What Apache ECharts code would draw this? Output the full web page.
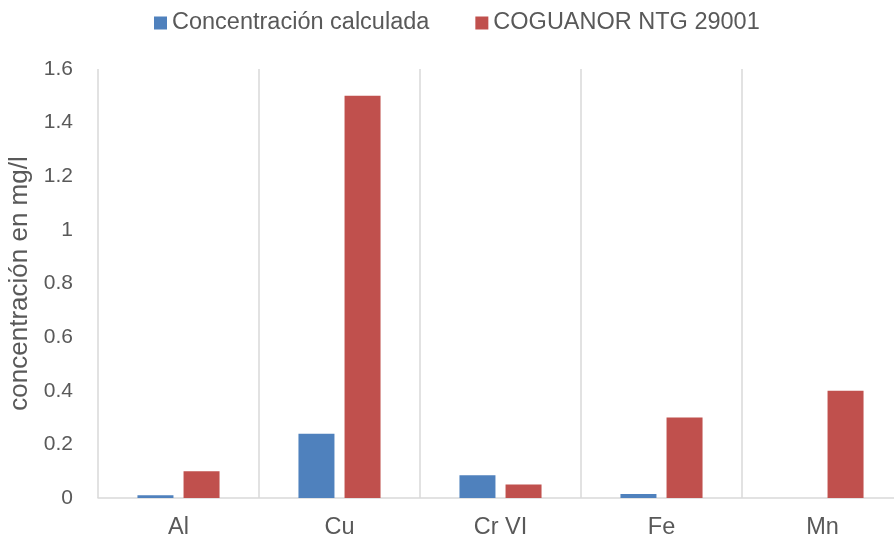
<!DOCTYPE html>
<html>
<head>
<meta charset="utf-8">
<script src="https://cdn.jsdelivr.net/npm/echarts@6/dist/echarts.min.js"></script>
<style>
  html, body { margin: 0; padding: 0; background: #ffffff; }
  #chart { width: 894px; height: 540px; }
</style>
</head>
<body>
<div id="chart"></div>
<script>
// Metales en agua: concentración calculada frente al límite COGUANOR NTG 29001
const categories = ['Al', 'Cu', 'Cr VI', 'Fe', 'Mn'];
const calculada = [0.01, 0.24, 0.085, 0.015, 0];
const coguanor = [0.1, 1.5, 0.05, 0.3, 0.4];
const seriesNames = ['Concentración calculada', 'COGUANOR NTG 29001'];
const yTicks = { min: 0, max: 1.6, interval: 0.2 };
const axisTitle = 'concentración en mg/l';

const textColor = '#595959';
const lineColor = '#D9D9D9';
const fontFamily = '"Liberation Sans", Arial, sans-serif';

const chart = echarts.init(document.getElementById('chart'), null, { renderer: 'canvas' });
chart.setOption({
  animation: false,
  backgroundColor: '#ffffff',
  textStyle: { fontFamily: fontFamily },
  legend: {
    top: 6,
    left: 149,
    itemWidth: 13,
    itemHeight: 13,
    itemGap: 46,
    icon: 'rect',
    textStyle: { color: textColor, fontSize: 23.5, fontFamily: fontFamily },
    data: seriesNames
  },
  grid: {
    left: 98,
    top: 69,
    right: -9,
    bottom: 42,
    containLabel: false,
    outerBoundsMode: 'none'
  },
  xAxis: {
    type: 'category',
    data: categories,
    axisLine: { show: true, lineStyle: { color: lineColor, width: 1.5 } },
    axisTick: { show: false },
    splitLine: { show: true, lineStyle: { color: lineColor, width: 1.5 } },
    axisLabel: { color: textColor, fontSize: 23.5, margin: 18, fontFamily: fontFamily }
  },
  yAxis: {
    type: 'value',
    min: yTicks.min,
    max: yTicks.max,
    interval: yTicks.interval,
    name: axisTitle,
    nameLocation: 'middle',
    nameGap: 60,
    nameTextStyle: { color: textColor, fontSize: 26, fontFamily: fontFamily },
    axisLine: { show: false },
    axisTick: { show: false },
    splitLine: { show: false },
    axisLabel: {
      color: textColor,
      fontSize: 21,
      margin: 25,
      fontFamily: fontFamily,
      formatter: v => String(Math.round(v * 10) / 10)
    }
  },
  series: [
    {
      name: seriesNames[0],
      type: 'bar',
      data: calculada,
      barWidth: 36,
      barGap: '28%',
      itemStyle: { color: '#4F81BD' }
    },
    {
      name: seriesNames[1],
      type: 'bar',
      data: coguanor,
      barWidth: 36,
      barGap: '28%',
      itemStyle: { color: '#C0504D' }
    }
  ]
});
</script>
</body>
</html>
